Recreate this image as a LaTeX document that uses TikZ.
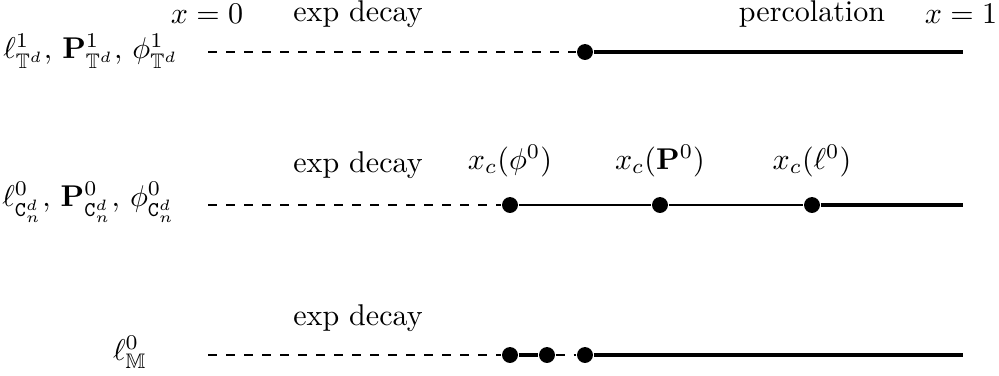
\documentclass[tikz,border=0pt]{standalone}
\usepackage{amsmath,amssymb}
\usetikzlibrary{positioning}

\begin{document}
\begin{tikzpicture}[
			x=0.01171cm, y=-0.01171cm,
			dot/.style={circle, fill, inner sep=0pt, minimum size=5.3pt},
			subcrit/.style={dashed},
			crit/.style={thin},
			supcrit/.style={line width=1.05pt}
			]
			\useasboundingbox (0,0) rectangle (999,375);
			
			% Top labels
			\node (zero) at (207,14) {$x=0$};
			\node (exp1) at (358,14) {exp decay};
			\node (perc) at (812,14) {percolation};
			\node (one) at (961,14) {$x=1$};
			
			% Torus
			\node[anchor=east] (torus) at (189,51) {$\ell^1_{\mathbb{T}^d},\, \mathbf{P}^1_{\mathbb{T}^d},\, \phi^1_{\mathbb{T}^d}$};
			\coordinate (s1) at (208,52);
			\node[dot] (t1) at (585,52) {};
			\coordinate (e1) at (963,52);
			\draw[subcrit] (s1) -- (t1);
			\draw[supcrit] (t1) -- (e1);
			
			% Cycles
			\node (exp2) at (358,165) {exp decay};
			\node[anchor=east] (cyc) at (186,202) {$\ell^0_{\mathtt{C}^d_n},\, \mathbf{P}^0_{\mathtt{C}^d_n},\, \phi^0_{\mathtt{C}^d_n}$};
			\coordinate (s2) at (208,205);
			\node[dot] (c1) at (510,205) {};
			\node[dot] (c2) at (660,205) {};
			\node[dot] (c3) at (812,205) {};
			\coordinate (e2) at (963,205);
			\node[above=3pt of c1] (xphi) {$x_c(\phi^0)$};
			\node[above=3pt of c2] (xP) {$x_c(\mathbf{P}^0)$};
			\node[above=3pt of c3] (xl) {$x_c(\ell^0)$};
			\draw[subcrit] (s2) -- (c1);
			\draw[crit] (c1) -- (c2);
			\draw[crit] (c2) -- (c3);
			\draw[supcrit] (c3) -- (e2);
			
			% M
			\node (exp3) at (358,318) {exp decay};
			\node (mset) at (130,352) {$\ell^0_{\mathbb{M}}$};
			\coordinate (s3) at (208,355);
			\node[dot] (m1) at (510,355) {};
			\node[dot] (m2) at (547,355) {};
			\node[dot] (m3) at (585,355) {};
			\coordinate (e3) at (963,355);
			\draw[subcrit] (s3) -- (m1);
			\draw[supcrit] (m1) -- (m2);
			\draw[subcrit] (m2) -- (m3);
			\draw[supcrit] (m3) -- (e3);
			
		\end{tikzpicture}
\end{document}
